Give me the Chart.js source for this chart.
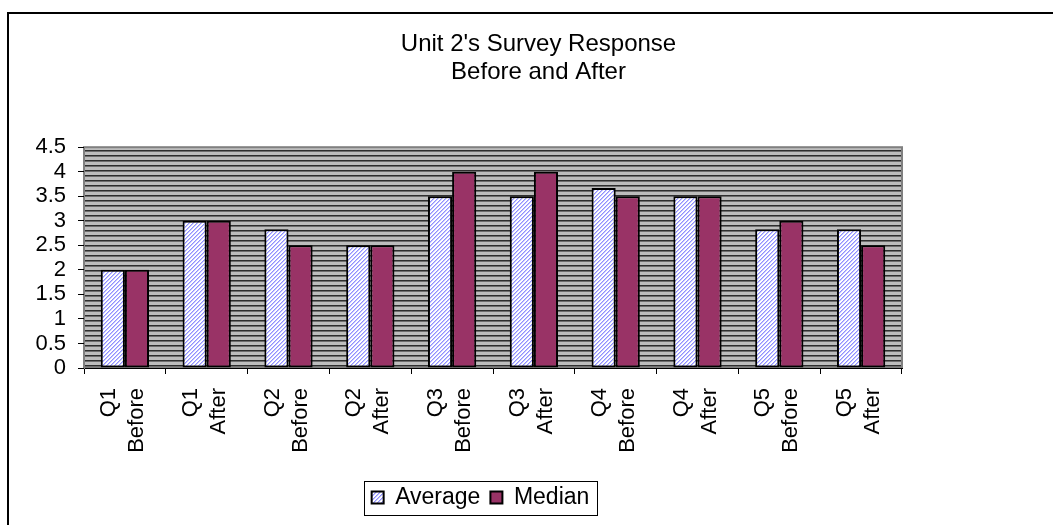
<!DOCTYPE html>
<html>
<head>
<meta charset="utf-8">
<script src="https://cdn.jsdelivr.net/npm/chart.js@4/dist/chart.umd.min.js"></script>
<style>
  html,body{margin:0;padding:0;background:#fff;}
  #wrap{width:1053px;height:525px;}
</style>
</head>
<body>
<div id="wrap"><canvas id="c" width="1053" height="525"></canvas></div>
<script>
const titleLines = ["Unit 2's Survey Response", "Before and After"];
const categories = [
  ["Q1", "Before"], ["Q1", "After"], ["Q2", "Before"], ["Q2", "After"],
  ["Q3", "Before"], ["Q3", "After"], ["Q4", "Before"], ["Q4", "After"],
  ["Q5", "Before"], ["Q5", "After"]
];
const averageValues = [2, 3, 2.83, 2.5, 3.5, 3.5, 3.67, 3.5, 2.83, 2.83];
const medianValues  = [2, 3, 2.5, 2.5, 4, 4, 3.5, 3.5, 3, 2.5];
const yMin = 0, yMax = 4.5, yStep = 0.5;

const FONT = '"Liberation Sans", Arial, sans-serif';

function makeHatch() {
  const c = document.createElement('canvas');
  c.width = 4; c.height = 4;
  const g = c.getContext('2d');
  g.fillStyle = '#ffffff';
  g.fillRect(0, 0, 4, 4);
  g.fillStyle = '#9090ff';
  [[3,0],[2,1],[1,2],[0,3]].forEach(p => g.fillRect(p[0], p[1], 1, 1));
  g.fillStyle = '#c4c4ff';
  [[0,0],[3,1],[2,2],[1,3]].forEach(p => g.fillRect(p[0], p[1], 1, 1));
  return g.createPattern(c, 'repeat');
}
function makeStripes() {
  const c = document.createElement('canvas');
  c.width = 8; c.height = 5;
  const g = c.getContext('2d');
  g.fillStyle = '#bdbdbd';
  g.fillRect(0, 0, 8, 5);
  g.fillStyle = '#2e2e2e';
  g.fillRect(0, 0, 8, 1);
  g.fillStyle = '#6e6e6e';
  g.fillRect(0, 1, 8, 1);
  return g.createPattern(c, 'repeat');
}

const hatch = makeHatch();
const stripes = makeStripes();

const LEGEND_FONT = 23;

const framePlugin = {
  id: 'frame',
  beforeDraw(chart) {
    const ctx = chart.ctx;
    const a = chart.chartArea;
    ctx.save();
    ctx.fillStyle = '#fff';
    ctx.fillRect(0, 0, chart.width, chart.height);
    ctx.strokeStyle = '#000';
    ctx.lineWidth = 2;
    ctx.beginPath();
    ctx.moveTo(8, chart.height + 2);
    ctx.lineTo(8, 13);
    ctx.lineTo(chart.width + 2, 13);
    ctx.stroke();
    ctx.fillStyle = stripes;
    ctx.fillRect(a.left, a.top, a.right - a.left, a.bottom - a.top);
    ctx.strokeStyle = '#808080';
    ctx.lineWidth = 2;
    ctx.strokeRect(a.left, a.top, a.right - a.left, a.bottom - a.top);
    ctx.restore();
  },
  afterLayout(chart) {
    const shiftT = 84, shiftL = 26;
    if (chart.titleBlock) { chart.titleBlock.left += shiftT; chart.titleBlock.right += shiftT; }
    if (chart.legend) { chart.legend.left += shiftL; chart.legend.right += shiftL; }
  },
  afterDraw(chart) {
    const lg = chart.legend;
    if (!lg || !lg.legendHitBoxes || !lg.legendHitBoxes.length) return;
    const boxes = lg.legendHitBoxes;
    const ctx = chart.ctx;
    ctx.save();
    ctx.font = LEGEND_FONT + 'px ' + FONT;
    let total = 0;
    const bw = lg.options.labels.boxWidth, pad = lg.options.labels.padding, fs = LEGEND_FONT;
    lg.legendItems.forEach((it, i) => {
      total += bw + fs / 2 + ctx.measureText(it.text).width + (i ? pad : 0);
    });
    const cx = (lg.left + lg.right) / 2;
    const left = Math.round(cx - total / 2) - 8;
    const right = Math.round(cx + total / 2) + 8;
    const cy = boxes[0].top + boxes[0].height / 2;
    const top = Math.round(cy - 17), bottom = Math.round(cy + 17);
    ctx.strokeStyle = '#000';
    ctx.lineWidth = 1;
    ctx.strokeRect(left + 0.5, top + 0.5, right - left, bottom - top);
    ctx.restore();
  }
};

new Chart(document.getElementById('c'), {
  type: 'bar',
  data: {
    labels: categories,
    datasets: [
      {
        label: 'Average',
        data: averageValues,
        backgroundColor: hatch,
        borderColor: '#000',
        borderWidth: 2,
        borderSkipped: false,
        categoryPercentage: 0.59,
        barPercentage: 1.0
      },
      {
        label: 'Median',
        data: medianValues,
        backgroundColor: '#993366',
        borderColor: '#000',
        borderWidth: 2,
        borderSkipped: false,
        categoryPercentage: 0.59,
        barPercentage: 1.0
      }
    ]
  },
  options: {
    responsive: false,
    devicePixelRatio: 1,
    animation: false,
    layout: { padding: { left: 7, right: 151, top: 12, bottom: 6 } },
    plugins: {
      title: {
        display: true,
        text: titleLines,
        color: '#000',
        font: { family: FONT, size: 24, weight: 'normal', lineHeight: 1.15 },
        padding: { top: 19, bottom: 61 }
      },
      legend: {
        position: 'bottom',
        labels: {
          color: '#000',
          font: { family: FONT, size: LEGEND_FONT },
          boxWidth: 12,
          boxHeight: 12,
          padding: 10
        }
      },
      tooltip: { enabled: false }
    },
    scales: {
      x: {
        offset: true,
        grid: {
          offset: true,
          drawOnChartArea: false,
          drawTicks: true,
          tickLength: 6,
          color: '#000'
        },
        border: { display: true, color: '#000', width: 1 },
        ticks: {
          color: '#000',
          font: { family: FONT, size: 22, lineHeight: 1.27 },
          maxRotation: 90,
          minRotation: 90,
          autoSkip: false,
          padding: 14,
          labelOffset: -16
        },
        afterFit(scale) { scale.height = 108; }
      },
      y: {
        min: yMin,
        max: yMax,
        grid: {
          drawOnChartArea: false,
          drawTicks: true,
          tickLength: 6,
          color: '#000'
        },
        border: { display: true, color: '#808080', width: 1 },
        ticks: {
          stepSize: yStep,
          autoSkip: false,
          color: '#000',
          font: { family: FONT, size: 22 },
          padding: 12,
          callback: (v) => String(+Number(v).toFixed(2))
        },
        afterFit(scale) { scale.width = 77; }
      }
    }
  },
  plugins: [framePlugin]
});
</script>
</body>
</html>
